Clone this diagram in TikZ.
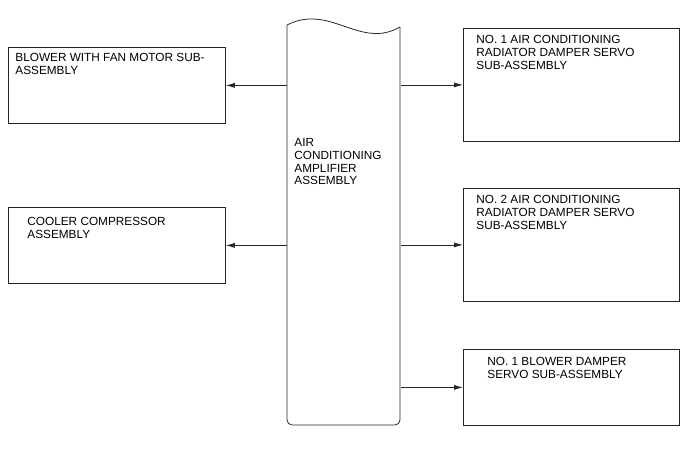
\documentclass[tikz,border=0pt]{standalone}
\usepackage{fontspec}
\setmainfont{Liberation Sans}
\usetikzlibrary{arrows.meta}
\begin{document}
\begin{tikzpicture}[x=1pt,y=-1pt,
  line width=0.8pt, draw=black!85,
  box/.style={draw=black!85, line width=0.8pt, rectangle, inner sep=0pt, anchor=north west},
  lbl/.style={anchor=north west, inner sep=0pt, align=left, font=\fontsize{11.8}{12.7}\selectfont},
  arr/.style={draw=black!85, -{Latex[length=9pt,width=5pt]}}]
\useasboundingbox (0,0) rectangle (688,463);
% amplifier column (invisible node for connector anchors)
\node[inner sep=0pt, anchor=north west, minimum width=113pt, minimum height=400pt] (amp) at (287,25) {};
\draw (287,25) .. controls (330,3) and (360,50) .. (400,27);
\draw[rounded corners=5pt] (400,27) -- (400,425) -- (287,425) -- (287,25);
\node[lbl] (amplbl) at (294,138.3) {AIR\\CONDITIONING\\AMPLIFIER\\ASSEMBLY};
% left boxes
\node[box, minimum width=217pt, minimum height=76pt] (blower) at (8,47) {};
\node[lbl] (blowerlbl) at (15,53.3) {BLOWER WITH FAN MOTOR SUB-\\ASSEMBLY};
\node[box, minimum width=217pt, minimum height=76pt] (cooler) at (8,207) {};
\node[lbl] (coolerlbl) at (27,217) {COOLER COMPRESSOR\\ASSEMBLY};
% right boxes
\node[box, minimum width=216pt, minimum height=113pt] (rad1) at (463,28) {};
\node[lbl] (rad1lbl) at (476,35) {NO. 1 AIR CONDITIONING\\RADIATOR DAMPER SERVO\\SUB-ASSEMBLY};
\node[box, minimum width=216pt, minimum height=113pt] (rad2) at (463,188) {};
\node[lbl] (rad2lbl) at (476,195) {NO. 2 AIR CONDITIONING\\RADIATOR DAMPER SERVO\\SUB-ASSEMBLY};
\node[box, minimum width=216pt, minimum height=76pt] (bdamp) at (463,349) {};
\node[lbl] (bdamplbl) at (487,357) {NO. 1 BLOWER DAMPER\\SERVO SUB-ASSEMBLY};
% connectors
\draw[arr] (blower.east -| amp.west) -- (blower.east);
\draw[arr] (cooler.east -| amp.west) -- (cooler.east);
\draw[arr] (rad1.west -| amp.east) -- (rad1.west);
\draw[arr] (rad2.west -| amp.east) -- (rad2.west);
\draw[arr] (bdamp.west -| amp.east) -- (bdamp.west);
\end{tikzpicture}
\end{document}
